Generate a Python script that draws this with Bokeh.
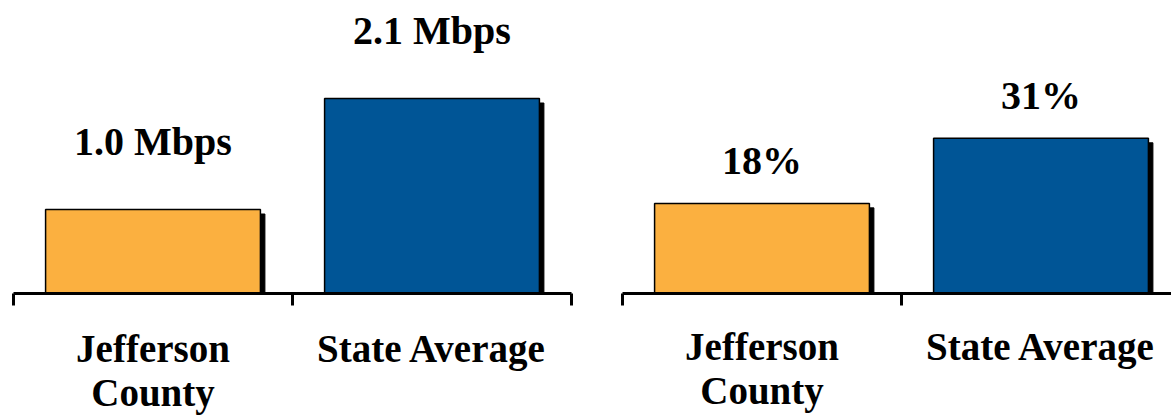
from bokeh.plotting import figure
from bokeh.models import ColumnDataSource, LabelSet, LinearAxis, FixedTicker, Range1d
from bokeh.layouts import row
from bokeh.embed import file_html
from bokeh.resources import INLINE

# ---- data ----
categories = ["Jefferson\nCounty", "State Average"]
speed_values = [1.0, 2.1]
speed_labels = ["1.0 Mbps", "2.1 Mbps"]
pct_values = [18, 31]
pct_labels = ["18%", "31%"]
bar_colors = ["#FBB040", "#005596"]

FONT = "Liberation Serif"
H = 419


def panel(values, labels, width, border_left, border_right, frame_w, frame_h,
          y_start, y_end, x_end, val_off, standoff, line_h, fs, cat_fs):
    p = figure(width=width, height=H, output_backend="svg", toolbar_location=None,
               x_range=Range1d(0, x_end), y_range=Range1d(y_start, y_end),
               x_axis_location=None, y_axis_location=None,
               min_border_left=border_left, min_border_right=border_right,
               min_border_top=0, min_border_bottom=H - frame_h)
    p.outline_line_color = None
    p.xgrid.visible = False
    p.ygrid.visible = False
    p.background_fill_color = "white"
    p.border_fill_color = "white"

    n = len(values)
    xs = [i + 0.5 for i in range(n)]
    bw = 0.77
    px_x = frame_w / x_end
    px_y = frame_h / (y_end - y_start)
    dx = 4.5 / px_x
    dy = 4.5 / px_y

    src = ColumnDataSource(dict(
        x=xs, top=values, color=bar_colors, label=labels,
        left=[x - bw / 2 for x in xs], right=[x + bw / 2 for x in xs],
        sleft=[x - bw / 2 + dx for x in xs], sright=[x + bw / 2 + dx for x in xs],
        stop=[v - dy for v in values],
        base=[y_start] * n,
    ))
    # shadow
    p.quad(left="sleft", right="sright", top="stop", bottom="base", source=src,
           fill_color="black", line_color="black")
    # bars
    p.quad(left="left", right="right", top="top", bottom="base", source=src,
           fill_color="color", line_color="black", line_width=1.5)

    ax = LinearAxis(ticker=FixedTicker(ticks=xs, minor_ticks=list(range(n + 1))))
    ax.axis_line_color = "black"
    ax.axis_line_width = 3
    ax.major_tick_line_color = None
    ax.major_tick_out = 12
    ax.major_tick_in = 0
    ax.minor_tick_line_color = "black"
    ax.minor_tick_line_width = 3
    ax.minor_tick_out = 12
    ax.minor_tick_in = 0
    ax.major_label_overrides = {x: c for x, c in zip(xs, categories)}
    ax.major_label_standoff = standoff
    ax.major_label_text_font = FONT
    ax.major_label_text_font_style = "bold"
    ax.major_label_text_font_size = cat_fs
    ax.major_label_text_color = "black"
    ax.major_label_text_line_height = line_h
    p.add_layout(ax, "below")

    common = dict(text_font=FONT, text_font_style="bold", text_font_size=fs,
                  text_color="black", text_align="center", text_baseline="alphabetic")
    p.add_layout(LabelSet(x="x", y="top", text="label", y_offset=val_off,
                          source=src, **common))
    return p


# left panel: frame from x 13 to 571, axis at y 293
sl = (195 - 84) / 1.1
yb = 1.0 - 84 / sl
p1 = panel(speed_values, speed_labels, width=590, border_left=13, border_right=19,
           frame_w=558, frame_h=293, y_start=yb, y_end=yb + 293 / sl, x_end=2.0,
           val_off=55, standoff=21, line_h=1.03, fs="40px", cat_fs="39px")

# right panel: frame from x 622 to the right edge, axis at y 295
sr = 5.04
p2 = panel(pct_values, pct_labels, width=581, border_left=32, border_right=0,
           frame_w=549, frame_h=295, y_start=0, y_end=295 / sr, x_end=549 / 279,
           val_off=29, standoff=19, line_h=1.03, fs="40px", cat_fs="39px")

layout = row(p1, p2)
open("out.html", "w").write(file_html(layout, INLINE))
